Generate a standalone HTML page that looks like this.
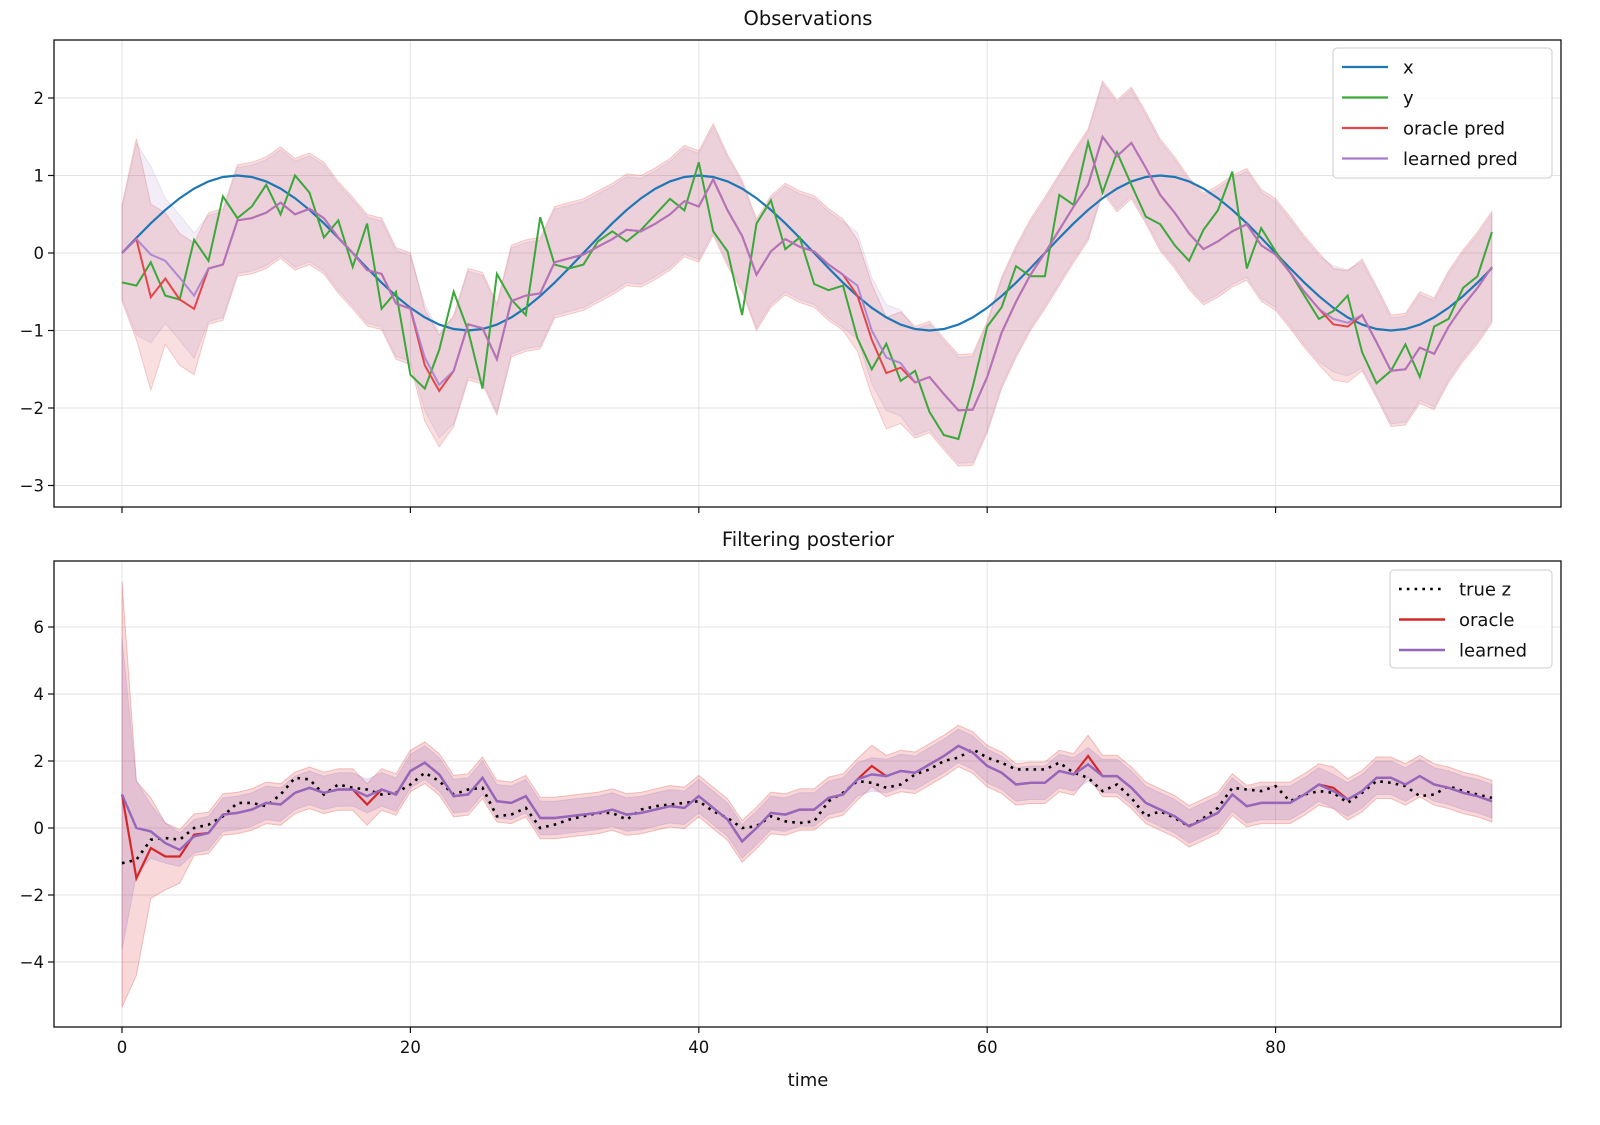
<!DOCTYPE html>
<html><head><meta charset="utf-8"><style>
body{margin:0;background:#fff;}
svg text{font-family:"DejaVu Sans","Liberation Sans",sans-serif;}
</style></head><body>
<svg id="s" width="1600" height="1120" xmlns="http://www.w3.org/2000/svg">
<rect width="1600" height="1120" fill="#fff"/>
</svg>
<script>
const S=document.getElementById('s');
const NS='http://www.w3.org/2000/svg';
function el(t,a,txt){const e=document.createElementNS(NS,t);for(const k in a)e.setAttribute(k,a[k]);if(txt!==undefined)e.textContent=txt;S.appendChild(e);return e;}
const X=t=>122+14.42*t;
const YT=v=>253-77.5*v;
const YB=v=>828-33.5*v;
const N=96;const T=[...Array(N).keys()];
const gy=[-0.38,-0.42,-0.12,-0.55,-0.6,0.17,-0.1,0.73,0.45,0.6,0.88,0.5,1.0,0.78,0.2,0.42,-0.18,0.38,-0.72,-0.5,-1.57,-1.75,-1.25,-0.5,-1.0,-1.75,-0.27,-0.6,-0.8,0.46,-0.15,-0.2,-0.15,0.15,0.28,0.15,0.3,0.5,0.7,0.55,1.17,0.28,0.02,-0.8,0.38,0.68,0.05,0.2,-0.4,-0.48,-0.42,-1.1,-1.5,-1.17,-1.65,-1.52,-2.05,-2.35,-2.4,-1.72,-0.95,-0.7,-0.17,-0.3,-0.3,0.75,0.62,1.43,0.78,1.3,0.88,0.47,0.37,0.1,-0.1,0.3,0.55,1.05,-0.2,0.32,0.02,-0.25,-0.55,-0.85,-0.75,-0.55,-1.28,-1.68,-1.52,-1.18,-1.6,-0.95,-0.85,-0.45,-0.3,0.27];
const op=[0,0.18,-0.57,-0.33,-0.6,-0.72,-0.2,-0.15,0.42,0.45,0.52,0.65,0.5,0.57,0.45,0.2,0.0,-0.22,-0.27,-0.65,-0.72,-1.45,-1.78,-1.52,-0.92,-0.97,-1.37,-0.62,-0.55,-0.52,-0.12,-0.07,-0.02,0.08,0.18,0.3,0.28,0.38,0.5,0.67,0.6,0.95,0.55,0.22,-0.28,0.02,0.18,0.08,0.02,-0.15,-0.28,-0.55,-1.12,-1.55,-1.48,-1.67,-1.6,-1.82,-2.03,-2.02,-1.6,-1.03,-0.63,-0.28,0.0,0.3,0.6,0.88,1.5,1.25,1.42,1.1,0.75,0.52,0.25,0.05,0.15,0.28,0.37,0.1,-0.02,-0.25,-0.5,-0.72,-0.92,-0.95,-0.8,-1.15,-1.52,-1.5,-1.22,-1.3,-0.95,-0.68,-0.45,-0.18];
const lp=op.slice();lp[2]=-0.02;lp[3]=-0.1;lp[4]=-0.32;lp[5]=-0.55;lp[21]=-1.35;lp[22]=-1.7;lp[51]=-0.42;lp[52]=-1.0;lp[53]=-1.35;lp[54]=-1.42;lp[84]=-0.85;lp[85]=-0.9;
const tz=[-1.05,-0.95,-0.35,-0.3,-0.35,0.0,0.1,0.35,0.75,0.75,0.65,1.0,1.5,1.45,1.0,1.3,1.2,1.15,1.0,1.05,1.3,1.65,1.4,1.0,1.15,1.2,0.35,0.4,0.6,0.0,0.1,0.25,0.35,0.45,0.45,0.25,0.55,0.65,0.7,0.75,0.8,0.5,0.3,0.0,0.05,0.35,0.2,0.15,0.2,0.8,1.05,1.4,1.35,1.2,1.3,1.6,1.75,2.0,2.1,2.35,2.1,1.95,1.75,1.75,1.75,1.95,1.65,1.5,1.1,1.3,0.9,0.35,0.5,0.3,0.05,0.3,0.6,1.2,1.15,1.1,1.25,0.8,1.0,1.1,1.05,0.75,1.05,1.4,1.35,1.25,0.95,1.0,1.25,1.1,1.0,0.9];
const ob=[1.0,-1.5,-0.6,-0.85,-0.85,-0.2,-0.15,0.4,0.45,0.55,0.75,0.7,1.05,1.2,1.05,1.15,1.15,0.7,1.15,1.0,1.7,1.95,1.6,0.95,1.0,1.5,0.8,0.75,0.95,0.3,0.3,0.35,0.4,0.45,0.55,0.4,0.45,0.55,0.65,0.6,0.95,0.6,0.25,-0.4,0.0,0.45,0.4,0.55,0.55,0.9,1.0,1.45,1.85,1.55,1.7,1.65,1.9,2.15,2.45,2.25,1.85,1.65,1.3,1.35,1.35,1.7,1.6,2.15,1.55,1.55,1.2,0.75,0.55,0.35,0.05,0.25,0.45,1.0,0.65,0.75,0.75,0.75,1.0,1.3,1.2,0.85,1.1,1.5,1.5,1.3,1.55,1.3,1.2,1.05,0.95,0.8];
const lb=ob.slice();lb[1]=0.0;lb[2]=-0.1;lb[3]=-0.45;lb[4]=-0.65;lb[5]=-0.25;lb[52]=1.6;lb[67]=1.9;lb[17]=0.95;lb[84]=1.1;
function pts(arr,Y){return arr.map((v,i)=>X(i).toFixed(1)+','+Y(v).toFixed(1)).join(' ');}
function band(arr,wf,Y,fill,stroke){const up=arr.map((v,i)=>X(i).toFixed(1)+','+Y(v+wf(i)).toFixed(1));const lo=arr.map((v,i)=>X(i).toFixed(1)+','+Y(v-wf(i)).toFixed(1)).reverse();el('polygon',{points:up.concat(lo).join(' '),fill:fill,stroke:stroke,'stroke-width':1});}
function axes(y0,y1,Y,ticks,title){
 for(const t of [0,20,40,60,80]) el('line',{x1:X(t),x2:X(t),y1:y0,y2:y1,stroke:'#e3e3e3','stroke-width':1});
 for(const v of ticks) el('line',{x1:54,x2:1561,y1:Y(v),y2:Y(v),stroke:'#e3e3e3','stroke-width':1});
 el('text',{x:808,y:y0-15,'font-size':19.5,'text-anchor':'middle',fill:'#111'},title);
}
function frame(y0,y1,Y,ticks,showX){
 el('rect',{x:54,y:y0,width:1507,height:y1-y0,fill:'none',stroke:'#111','stroke-width':1.3});
 for(const v of ticks){el('line',{x1:48,x2:54,y1:Y(v),y2:Y(v),stroke:'#111','stroke-width':1.2});
  el('text',{x:44,y:Y(v)+6,'font-size':16.5,'text-anchor':'end',fill:'#111'},(v<0?'\u2212'+(-v):''+v));}
 for(const t of [0,20,40,60,80]){el('line',{x1:X(t),x2:X(t),y1:y1,y2:y1+6,stroke:'#111','stroke-width':1.2});
  if(showX) el('text',{x:X(t),y:y1+26,'font-size':16.5,'text-anchor':'middle',fill:'#111'},''+t);}
}
const tt=[2,1,0,-1,-2,-3];
axes(40,507,YT,tt,'Observations');
const wt=i=>i==0?0.62:i==1?1.3:i==2?1.2:(i<6?0.85:0.72);
band(op,wt,YT,'rgba(214,39,40,0.15)','rgba(214,39,40,0.2)');
band(lp,i=>wt(i)*0.95,YT,'rgba(148,103,189,0.12)','rgba(148,103,189,0.15)');
el('polyline',{points:T.map(i=>X(i).toFixed(1)+','+YT(Math.sin(2*Math.PI*i/32)).toFixed(1)).join(' '),fill:'none',stroke:'#1f77b4','stroke-width':2.2});
el('polyline',{points:pts(gy,YT),fill:'none',stroke:'#3aa83a','stroke-width':2});
el('polyline',{points:pts(op,YT),fill:'none',stroke:'#e3474a','stroke-width':2});
el('polyline',{points:pts(lp,YT),fill:'none',stroke:'#a77ccf','stroke-width':2,'stroke-opacity':0.85});
frame(40,507,YT,tt,false);
el('rect',{x:1333,y:48,width:219,height:130,rx:4,fill:'#fff','fill-opacity':0.85,stroke:'#ccc'});
[['x','#1f77b4'],['y','#3aa83a'],['oracle pred','#e3474a'],['learned pred','#a77ccf']].forEach((d,k)=>{const y=67+k*30.5;
 el('line',{x1:1342,x2:1388,y1:y,y2:y,stroke:d[1],'stroke-width':2.2});
 el('text',{x:1403,y:y+6.5,'font-size':18,fill:'#111'},d[0]);});
const bt=[6,4,2,0,-2,-4];
axes(561,1027,YB,bt,'Filtering posterior');
const wo=i=>[6.35,2.9,1.5,1.0,0.8][i]??0.62;
const wl=i=>[4.65,1.4,0.8,0.6,0.5][i]??0.5;
band(ob,wo,YB,'rgba(214,39,40,0.18)','rgba(214,39,40,0.25)');
band(lb,wl,YB,'rgba(148,103,189,0.2)','rgba(148,103,189,0.2)');
el('polyline',{points:pts(tz,YB),fill:'none',stroke:'#000','stroke-width':2.6,'stroke-dasharray':'2.6,5.2'});
el('polyline',{points:pts(ob,YB),fill:'none',stroke:'#d62728','stroke-width':2.2});
el('polyline',{points:pts(lb,YB),fill:'none',stroke:'#9467bd','stroke-width':2.4});
frame(561,1027,YB,bt,true);
el('text',{x:808,y:1086,'font-size':18,'text-anchor':'middle',fill:'#111'},'time');
el('rect',{x:1390,y:570,width:162,height:98,rx:4,fill:'#fff','fill-opacity':0.85,stroke:'#ccc'});
[['true z','#000',1],['oracle','#d62728',0],['learned','#9467bd',0]].forEach((d,k)=>{const y=589+k*30.5;
 const a={x1:1399,x2:1445,y1:y,y2:y,stroke:d[1],'stroke-width':2.4};if(d[2])a['stroke-dasharray']='2.6,5.2';
 el('line',a);el('text',{x:1459,y:y+6.5,'font-size':18,fill:'#111'},d[0]);});
</script>
</body></html>
